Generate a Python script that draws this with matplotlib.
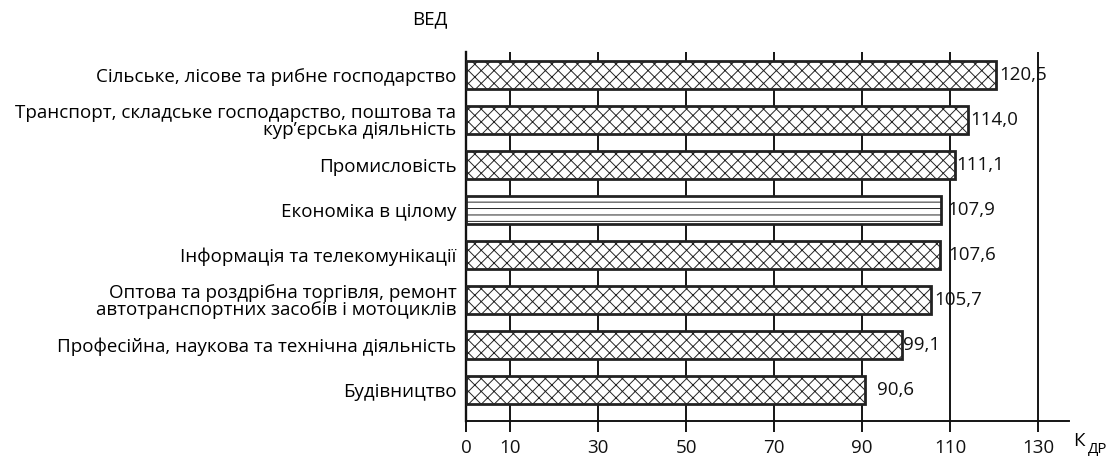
import matplotlib
matplotlib.use("Agg")
import matplotlib.pyplot as plt

# data (top to bottom)
categories = [
    "Сільське, лісове та рибне господарство",
    "Транспорт, складське господарство, поштова та\nкур’єрська діяльність",
    "Промисловість",
    "Економіка в цілому",
    "Інформація та телекомунікації",
    "Оптова та роздрібна торгівля, ремонт\nавтотранспортних засобів і мотоциклів",
    "Професійна, наукова та технічна діяльність",
    "Будівництво",
]
values = [120.5, 114.0, 111.1, 107.9, 107.6, 105.7, 99.1, 90.6]
xticks = [0, 10, 30, 50, 70, 90, 110, 130]

# label offsets in points (as in the source picture)
label_pad = [2, 1, 0, 5, 7, 2, 0, 10]
hatches = ["xx" if c != "Економіка в цілому" else "--" for c in categories]

DPI = 77
FS = 17.5
plt.rcParams['font.family'] = ['Open Sans', 'DejaVu Sans']
plt.rcParams['hatch.linewidth'] = 0.9
plt.rcParams['hatch.color'] = '#222222'

fig = plt.figure(figsize=(1112 / DPI, 459 / DPI), dpi=DPI)
ax = fig.add_axes([466 / 1112, 1 - 421 / 459, (1069 - 466) / 1112, (421 - 52) / 459])

ypos = list(range(len(values)))
for y, v, h in zip(ypos, values, hatches):
    ax.barh(y, v, height=0.64, color='white', edgecolor='#222222',
            linewidth=2.6, hatch=h, zorder=3)

for y, v, p in zip(ypos, values, label_pad):
    ax.annotate(f"{v:.1f}".replace('.', ','), (v, y), xytext=(p + 1, 0),
                textcoords='offset points', va='center', ha='left',
                fontsize=FS, color='#111111', zorder=4)

ax.set_xlim(0, 137)
ax.set_ylim(len(values) - 1 + 0.69, -0.51)
ax.set_xticks(xticks)
ax.set_xticklabels([str(t) for t in xticks], fontsize=FS)
ax.set_yticks(ypos)
ax.set_yticklabels(categories, fontsize=FS, linespacing=0.95)
ax.tick_params(axis='y', length=0, pad=9)
ax.tick_params(axis='x', length=10, width=1.8, direction='out', pad=6.5, colors='#111111')

ax.grid(axis='x', color='#111111', linewidth=1.8, zorder=1)
ax.set_axisbelow(True)
for s in ['top', 'right']:
    ax.spines[s].set_visible(False)
ax.spines['left'].set_linewidth(2.2)
ax.spines['bottom'].set_linewidth(1.8)
ax.spines['left'].set_color('#111111')
ax.spines['bottom'].set_color('#111111')

fig.text(430 / 1112, 1 - 19 / 459, "ВЕД", ha='center', va='center', fontsize=FS)
fig.text(1073 / 1112, 1 - 441 / 459, "К", ha='left', va='center', fontsize=FS)
fig.text(1088 / 1112, 1 - 450 / 459, "ДР", ha='left', va='center', fontsize=14)

fig.savefig("out.png", dpi=DPI)
